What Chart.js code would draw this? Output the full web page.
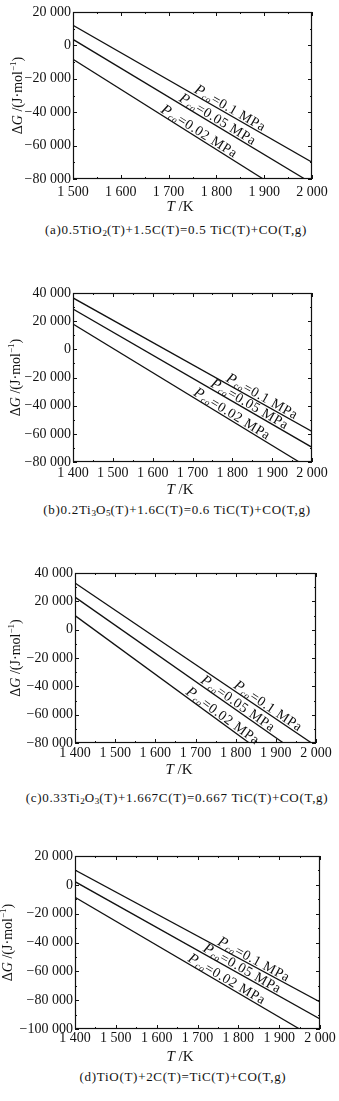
<!DOCTYPE html>
<html>
<head>
<meta charset="utf-8">
<script src="https://cdn.jsdelivr.net/npm/chart.js@4.4.1/dist/chart.umd.min.js"></script>
<style>
    html, body { margin: 0; padding: 0; background: #fff; }
    #page { position: relative; width: 339px; height: 1101px; overflow: hidden; }
    canvas { position: absolute; left: 0; }
    .caption {
        position: absolute;
        transform: translate(-50%, -50%);
        white-space: nowrap;
        font-family: "Liberation Serif", "DejaVu Serif", serif;
        font-size: 13px;
        letter-spacing: 0.7px;
        color: #111;
    }
    .caption sub { font-size: 9px; vertical-align: -2px; line-height: 0; letter-spacing: 0; }
</style>
</head>
<body>
<div id="page"></div>
<script>
    // pressure labels for the three lines
    const pressures = ['0.1', '0.05', '0.02'];

    // (a) 0.5TiO2 + 1.5C, T 1500-2000 K, dG -80000..20000
    const xRangeA = [1500, 2000];
    const yRangeA = [-80000, 20000];
    const lineA01 = [[1500, 12000], [2000, -70000]];
    const lineA005 = [[1500, 3600], [1985, -80000]];
    const lineA002 = [[1500, -8300], [1898, -80000]];
    const labelTA = [1750, 1718, 1680];

    // (b) 0.2Ti3O5 + 1.6C
    const xRangeB = [1400, 2000];
    const yRangeB = [-80000, 40000];
    const lineB01 = [[1400, 36500], [2000, -58300]];
    const lineB005 = [[1400, 28600], [2000, -69600]];
    const lineB002 = [[1400, 18000], [1968, -80000]];
    const labelTB = [1780, 1741, 1698];

    // (c) 0.33Ti2O3 + 1.667C
    const xRangeC = [1400, 2000];
    const yRangeC = [-80000, 40000];
    const lineC01 = [[1400, 32900], [1989, -80000]];
    const lineC005 = [[1400, 23000], [1919, -80000]];
    const lineC002 = [[1400, 9900], [1834, -80000]];
    const labelTC = [1790, 1708, 1671];

    // (d) TiO + 2C
    const xRangeD = [1400, 2000];
    const yRangeD = [-100000, 20000];
    const lineD01 = [[1400, 10300], [2000, -81300]];
    const lineD005 = [[1400, 2200], [2000, -93100]];
    const lineD002 = [[1400, -8600], [1950, -100000]];
    const labelTD = [1745, 1709, 1672];

    const xStep = 100;
    const yStep = 20000;

    // page layout of the four panels (pixels)
    const panels = [
        { top: 0, h: 222, area: [73, 12, 312, 179], xPad: 5, yTitleX: 18, xTitle: [180, 207], caption: [176, 230],
          xr: xRangeA, yr: yRangeA, lines: [lineA01, lineA005, lineA002], labelT: labelTA,
          text: '(a)0.5TiO<sub>2</sub>(T)+1.5C(T)=0.5 TiC(T)+CO(T,g)' },
        { top: 270, h: 232, area: [73, 23, 312, 192], xPad: 3, yTitleX: 16, xTitle: [180, 220], caption: [177, 240],
          xr: xRangeB, yr: yRangeB, lines: [lineB01, lineB005, lineB002], labelT: labelTB,
          text: '(b)0.2Ti<sub>3</sub>O<sub>5</sub>(T)+1.6C(T)=0.6 TiC(T)+CO(T,g)' },
        { top: 540, h: 242, area: [75, 33, 316, 203], xPad: 2, yTitleX: 16, xTitle: [179, 230], caption: [177, 258],
          xr: xRangeC, yr: yRangeC, lines: [lineC01, lineC005, lineC002], labelT: labelTC,
          text: '(c)0.33Ti<sub>2</sub>O<sub>3</sub>(T)+1.667C(T)=0.667 TiC(T)+CO(T,g)' },
        { top: 810, h: 256, area: [75, 46, 320, 219], xPad: 1, yTitleX: 8, xTitle: [180, 247], caption: [183, 267],
          xr: xRangeD, yr: yRangeD, lines: [lineD01, lineD005, lineD002], labelT: labelTD,
          text: '(d)TiO(T)+2C(T)=TiC(T)+CO(T,g)' }
    ];

    const SERIF = '"Liberation Serif", "DejaVu Serif", serif';
    const INK = '#111';

    function fmt(v) {
        const s = Math.abs(v).toString();
        const grouped = s.length > 3 ? s.slice(0, -3) + ' ' + s.slice(-3) : s;
        return (v < 0 ? '\u2212' : '') + grouped;
    }

    // draw a run of text pieces with their own fonts, starting at x
    function richWidth(ctx, parts) {
        let w = 0;
        parts.forEach(p => { ctx.font = p.font; w += ctx.measureText(p.t).width; });
        return w;
    }
    function drawRich(ctx, parts, x, y) {
        parts.forEach(p => {
            ctx.font = p.font;
            ctx.fillText(p.t, x, y + (p.dy || 0));
            x += ctx.measureText(p.t).width;
        });
    }

    const frameTicks = {
        id: 'frameTicks',
        afterDraw(chart) {
            const ctx = chart.ctx;
            const a = chart.chartArea;
            const xs = chart.scales.x, ys = chart.scales.y;
            ctx.save();
            ctx.strokeStyle = INK;
            ctx.lineWidth = 1.2;
            ctx.strokeRect(a.left + 0.5, a.top + 0.5, a.right - a.left - 1, a.bottom - a.top - 1);
            ctx.lineWidth = 1;
            ctx.beginPath();
            for (let v = xs.min; v <= xs.max + 1e-6; v += xStep / 2) {
                const len = (v % xStep === 0) ? 4 : 2;
                const px = Math.round(xs.getPixelForValue(v)) + 0.5;
                ctx.moveTo(px, a.bottom); ctx.lineTo(px, a.bottom - len);
                ctx.moveTo(px, a.top); ctx.lineTo(px, a.top + len);
            }
            for (let v = ys.min; v <= ys.max + 1e-6; v += yStep / 2) {
                const len = (v % yStep === 0) ? 4 : 2;
                const py = Math.round(ys.getPixelForValue(v)) + 0.5;
                ctx.moveTo(a.left, py); ctx.lineTo(a.left + len, py);
                ctx.moveTo(a.right, py); ctx.lineTo(a.right - len, py);
            }
            ctx.stroke();
            ctx.restore();
        }
    };

    const axisTitles = {
        id: 'axisTitles',
        afterDraw(chart, args, opts) {
            const ctx = chart.ctx;
            const a = chart.chartArea;
            ctx.save();
            ctx.fillStyle = INK;
            ctx.textBaseline = 'middle';
            // x title: T /K
            const xParts = [
                { t: 'T', font: 'italic 15px ' + SERIF },
                { t: ' /K', font: '15px ' + SERIF }
            ];
            drawRich(ctx, xParts, opts.xTitle[0] - richWidth(ctx, xParts) / 2, opts.xTitle[1]);
            // y title: ΔG /(J·mol-1)
            const yParts = [
                { t: '\u0394', font: '14px ' + SERIF },
                { t: 'G', font: 'italic 14px ' + SERIF },
                { t: ' /(J\u00b7mol', font: '14px ' + SERIF },
                { t: '\u22121', font: '9px ' + SERIF, dy: -4 },
                { t: ')', font: '14px ' + SERIF }
            ];
            ctx.translate(opts.yTitleX, (a.top + a.bottom) / 2);
            ctx.rotate(-Math.PI / 2);
            drawRich(ctx, yParts, -richWidth(ctx, yParts) / 2, 0);
            ctx.restore();
        }
    };

    const lineLabels = {
        id: 'lineLabels',
        afterDatasetsDraw(chart, args, opts) {
            const ctx = chart.ctx;
            const xs = chart.scales.x, ys = chart.scales.y;
            ctx.save();
            ctx.fillStyle = INK;
            ctx.textBaseline = 'alphabetic';
            chart.data.datasets.forEach((ds, i) => {
                const p0 = ds.data[0], p1 = ds.data[ds.data.length - 1];
                const x0 = xs.getPixelForValue(p0.x), y0 = ys.getPixelForValue(p0.y);
                const x1 = xs.getPixelForValue(p1.x), y1 = ys.getPixelForValue(p1.y);
                const ang = Math.atan2(y1 - y0, x1 - x0);
                const t = opts.labelT[i];
                const f = (t - p0.x) / (p1.x - p0.x);
                const px = xs.getPixelForValue(t);
                const py = y0 + f * (y1 - y0);
                ctx.save();
                ctx.translate(px, py);
                ctx.rotate(ang);
                ctx.letterSpacing = '0.6px';
                drawRich(ctx, [
                    { t: 'P', font: 'italic 15px ' + SERIF },
                    { t: 'co', font: 'italic 9px ' + SERIF, dy: 2 },
                    { t: '=' + pressures[i] + ' MPa', font: '14px ' + SERIF }
                ], 0, -2);
                ctx.restore();
            });
            ctx.restore();
        }
    };

    function makePanel(p) {
        const page = document.getElementById('page');
        const canvas = document.createElement('canvas');
        canvas.width = 339;
        canvas.height = p.h;
        canvas.style.top = p.top + 'px';
        page.appendChild(canvas);

        const cap = document.createElement('div');
        cap.className = 'caption';
        cap.style.left = p.caption[0] + 'px';
        cap.style.top = (p.top + p.caption[1]) + 'px';
        cap.innerHTML = p.text;
        page.appendChild(cap);

        const [left, top, right, bottom] = p.area;
        return new Chart(canvas.getContext('2d'), {
            type: 'scatter',
            data: {
                datasets: p.lines.map((pts, i) => ({
                    label: pressures[i],
                    data: pts.map(([x, y]) => ({ x, y })),
                    showLine: true,
                    borderColor: INK,
                    borderWidth: 1.3,
                    pointRadius: 0
                }))
            },
            options: {
                responsive: false,
                animation: false,
                devicePixelRatio: 1,
                layout: { padding: { left: 0, top: top, right: 339 - right, bottom: 0 } },
                plugins: {
                    legend: { display: false },
                    tooltip: { enabled: false },
                    axisTitles: { yTitleX: p.yTitleX, xTitle: p.xTitle },
                    lineLabels: { labelT: p.labelT }
                },
                scales: {
                    x: {
                        type: 'linear',
                        min: p.xr[0],
                        max: p.xr[1],
                        grid: { display: false, drawTicks: false },
                        border: { display: false },
                        ticks: {
                            stepSize: xStep,
                            padding: p.xPad,
                            maxRotation: 0,
                            autoSkip: false,
                            color: INK,
                            font: { family: SERIF, size: 14 },
                            callback: v => fmt(v)
                        },
                        afterFit: s => { s.height = p.h - bottom; }
                    },
                    y: {
                        min: p.yr[0],
                        max: p.yr[1],
                        grid: { display: false, drawTicks: false },
                        border: { display: false },
                        ticks: {
                            stepSize: yStep,
                            padding: 2,
                            color: INK,
                            font: { family: SERIF, size: 14 },
                            callback: v => fmt(v)
                        },
                        afterFit: s => { s.width = left; }
                    }
                }
            },
            plugins: [frameTicks, axisTitles, lineLabels]
        });
    }

    panels.forEach(makePanel);
</script>
</body>
</html>
